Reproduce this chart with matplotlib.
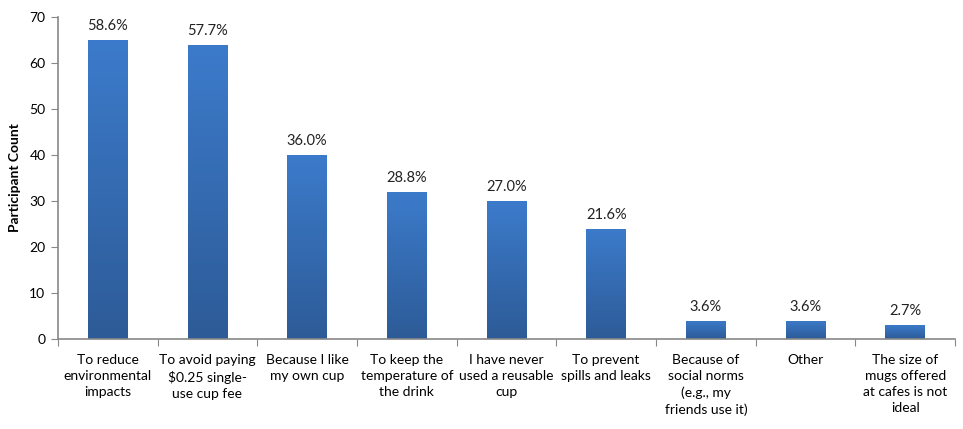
import numpy as np
import matplotlib
matplotlib.use("Agg")
import matplotlib.pyplot as plt
from matplotlib.colors import LinearSegmentedColormap

plt.rcParams['font.family'] = ['Lato', 'DejaVu Sans']

reasons = [
    "To reduce\nenvironmental\nimpacts",
    "To avoid paying\n$0.25 single-\nuse cup fee",
    "Because I like\nmy own cup",
    "To keep the\ntemperature of\nthe drink",
    "I have never\nused a reusable\ncup",
    "To prevent\nspills and leaks",
    "Because of\nsocial norms\n(e.g., my\nfriends use it)",
    "Other",
    "The size of\nmugs offered\nat cafes is not\nideal",
]
counts = [65, 64, 40, 32, 30, 24, 4, 4, 3]
pct_labels = ["58.6%", "57.7%", "36.0%", "28.8%", "27.0%", "21.6%", "3.6%", "3.6%", "2.7%"]

fig = plt.figure(figsize=(9.63, 4.29), dpi=100)
ax = fig.add_axes([0.0602, 0.2098, 0.9315, 0.7506])

x = np.arange(len(reasons))
bars = ax.bar(x, counts, width=0.4, color='none', edgecolor='none', zorder=2)

# vertical gradient fill on each bar
cmap = LinearSegmentedColormap.from_list('bluegrad', ['#2D5B97', '#3C7BCB'])
grad = np.linspace(0, 1, 256).reshape(-1, 1)
for b in bars:
    x0, y0 = b.get_x(), b.get_y()
    w, h = b.get_width(), b.get_height()
    im = ax.imshow(grad, cmap=cmap, aspect='auto', origin='lower',
                   extent=[x0, x0 + w, y0, y0 + h], zorder=2)
    im.set_clip_path(b)

for xi, c, lab in zip(x, counts, pct_labels):
    ax.text(xi, c + 1.5, lab, ha='center', va='bottom', fontsize=10.5, color='#222222')

ax.set_xlim(-0.5, len(reasons) - 0.5)
ax.set_ylim(0, 70)
ax.set_yticks(range(0, 71, 10))
ax.set_xticks(np.arange(len(reasons) + 1) - 0.5, minor=False)
ax.set_xticklabels([])
ax.set_xticks(x, minor=True)
ax.set_xticklabels(reasons, minor=True, fontsize=10, linespacing=1.4)
ax.tick_params(axis='x', which='minor', length=0, pad=11)
ax.tick_params(axis='x', which='major', length=5, color='#888888')
ax.tick_params(axis='y', length=5, color='#888888', labelsize=10, pad=4)

for side in ['top', 'right']:
    ax.spines[side].set_visible(False)
for side in ['left', 'bottom']:
    ax.spines[side].set_color('#888888')
    ax.spines[side].set_linewidth(1.2)

ax.set_ylabel('Participant Count', fontsize=10, fontweight='bold', labelpad=6)

fig.savefig('out.png', dpi=100)
